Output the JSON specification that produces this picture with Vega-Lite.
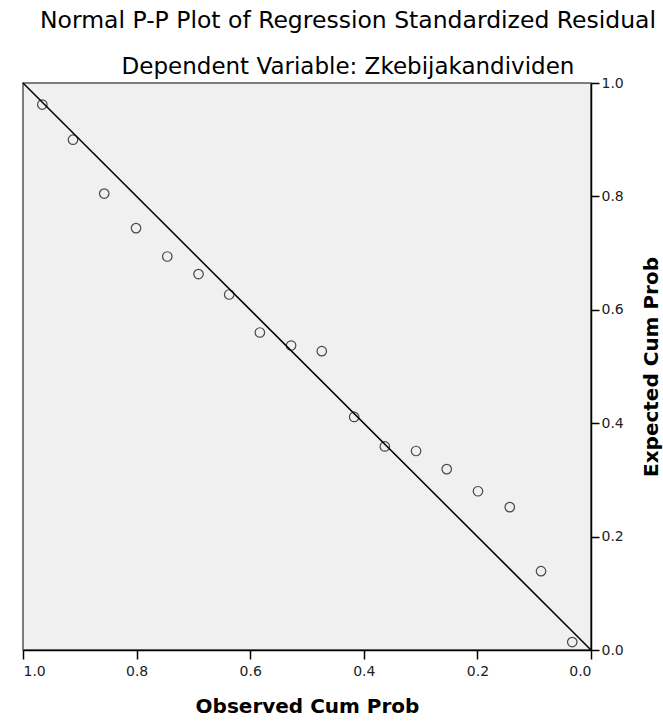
{
  "$schema": "https://vega.github.io/schema/vega-lite/v6.json",
  "width": 568,
  "height": 567,
  "autosize": "none",
  "padding": {"left": 23, "top": 83, "right": 72, "bottom": 74},
  "background": "white",
  "config": {
    "font": "DejaVu Sans",
    "view": {"fill": "#f0f0f0", "stroke": "#555555", "strokeWidth": 1.5}
  },
  "title": {
    "text": "Normal P-P Plot of Regression Standardized Residual",
    "subtitle": "Dependent Variable: Zkebijakandividen",
    "anchor": "middle",
    "dx": 41,
    "font": "DejaVu Sans",
    "subtitleFont": "DejaVu Sans",
    "fontSize": 23.5,
    "fontWeight": "normal",
    "color": "#000000",
    "subtitleFontSize": 23,
    "subtitleColor": "#000000",
    "subtitlePadding": 24,
    "offset": -3
  },
  "layer": [
    {
      "data": {"values": [{"x": 0, "y": 0}, {"x": 1, "y": 1}]},
      "mark": {"type": "line", "color": "#000000", "strokeWidth": 1.5},
      "encoding": {
        "x": {"field": "x", "type": "quantitative"},
        "y": {"field": "y", "type": "quantitative"}
      }
    },
    {
      "data": {"values": [
        {"observed": 0.966, "expected": 0.962},
        {"observed": 0.912, "expected": 0.900},
        {"observed": 0.857, "expected": 0.805},
        {"observed": 0.801, "expected": 0.744},
        {"observed": 0.746, "expected": 0.694},
        {"observed": 0.691, "expected": 0.663},
        {"observed": 0.637, "expected": 0.627},
        {"observed": 0.583, "expected": 0.560},
        {"observed": 0.528, "expected": 0.537},
        {"observed": 0.474, "expected": 0.527},
        {"observed": 0.417, "expected": 0.411},
        {"observed": 0.363, "expected": 0.359},
        {"observed": 0.308, "expected": 0.351},
        {"observed": 0.254, "expected": 0.319},
        {"observed": 0.199, "expected": 0.280},
        {"observed": 0.143, "expected": 0.252},
        {"observed": 0.088, "expected": 0.139},
        {"observed": 0.033, "expected": 0.014}
      ]},
      "mark": {"type": "point", "shape": "circle", "filled": false, "color": "#000000", "size": 90, "strokeWidth": 1.2},
      "encoding": {
        "x": {
          "field": "observed", "type": "quantitative",
          "scale": {"domain": [0, 1], "reverse": true, "nice": false},
          "axis": {
            "title": "Observed Cum Prob", "values": [0, 0.2, 0.4, 0.6, 0.8, 1.0], "format": ".1f",
            "grid": false, "domainColor": "#000000", "domainWidth": 1.5, "tickColor": "#000000", "tickWidth": 1.5, "tickSize": 9,
            "labelFont": "DejaVu Sans", "labelFontSize": 14, "labelColor": "#222222", "labelPadding": 5,
            "titleFont": "DejaVu Sans", "titleFontSize": 20, "titleFontWeight": "bold", "titleColor": "#000000", "titlePadding": 18
          }
        },
        "y": {
          "field": "expected", "type": "quantitative",
          "scale": {"domain": [0, 1], "nice": false},
          "axis": {
            "orient": "right", "title": "Expected Cum Prob", "values": [0, 0.2, 0.4, 0.6, 0.8, 1.0], "format": ".1f",
            "grid": false, "domainColor": "#000000", "domainWidth": 1.5, "tickColor": "#000000", "tickWidth": 1.5, "tickSize": 8,
            "labelFont": "DejaVu Sans", "labelFontSize": 14, "labelColor": "#222222", "labelPadding": 2,
            "titleFont": "DejaVu Sans", "titleFontSize": 20, "titleFontWeight": "bold", "titleColor": "#000000", "titleAngle": 270, "titlePadding": 38
          }
        }
      }
    }
  ]
}
